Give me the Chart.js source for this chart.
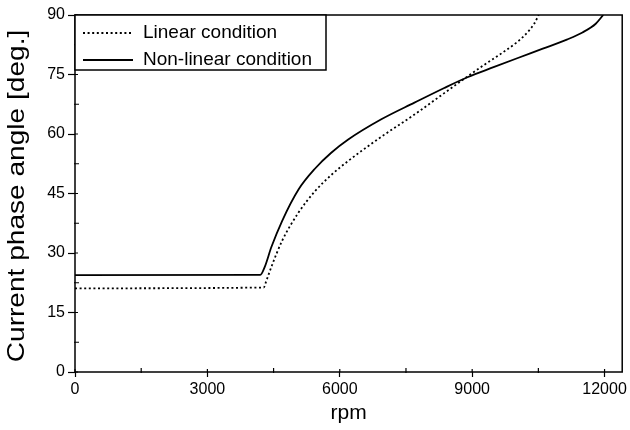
<!DOCTYPE html>
<html>
<head>
<meta charset="utf-8">
<script src="https://cdn.jsdelivr.net/npm/chart.js@4.4.1/dist/chart.umd.min.js"></script>
<style>
  html, body { margin: 0; padding: 0; background: #fff; }
  #wrap { width: 630px; height: 430px; }
</style>
</head>
<body>
<div id="wrap"><canvas id="c" width="630" height="430"></canvas></div>
<script>
// Current phase angle versus speed for the two motor model conditions
const linearRpm   = [0, 4277, 4330, 4450, 4690, 5065, 5441, 5800, 6191, 6941, 7692, 8367, 8893, 9268, 9700, 10020, 10250, 10400, 10508];
const linearAngle = [21.1, 21.3, 22.8, 26.5, 33.0, 40.2, 45.6, 49.6, 53.2, 59.3, 64.9, 70.3, 74.5, 77.4, 80.6, 83.2, 85.6, 87.7, 90.0];

const nonlinearRpm   = [0, 4200, 4300, 4450, 4690, 5065, 5441, 5800, 6191, 6941, 7692, 8367, 8893, 9500, 10020, 10600, 11145, 11500, 11800, 11970];
const nonlinearAngle = [24.4, 24.5, 26.5, 31.5, 38.0, 46.0, 51.3, 55.2, 58.6, 63.7, 67.9, 71.6, 74.3, 76.9, 79.1, 81.5, 83.8, 85.6, 87.8, 90.0];

const seriesLabels = ['Linear condition', 'Non-linear condition'];
const xTickValues = [0, 1500, 3000, 4500, 6000, 7500, 9000, 10500, 12000];
const xTickLabels = [0, 3000, 6000, 9000, 12000];
const yTickValues = [0, 7.5, 15, 22.5, 30, 37.5, 45, 52.5, 60, 67.5, 75, 82.5, 90];
const yTickLabels = [0, 15, 30, 45, 60, 75, 90];
const xTitle = 'rpm';
const yTitle = 'Current phase angle [deg.]';

const FONT = "'Liberation Sans', Arial, Helvetica, sans-serif";
const DOT_DASH = [2, 2.6];

function toPoints(xs, ys) { return xs.map((x, i) => ({ x: x, y: ys[i] })); }

// Frame, inner/minor tick marks, y title and the boxed legend in the upper-left corner
const framePlugin = {
  id: 'frame',
  afterDraw(chart) {
    const ctx = chart.ctx;
    const a = chart.chartArea;
    const xs = chart.scales.x, ys = chart.scales.y;
    ctx.save();
    ctx.strokeStyle = '#000';
    ctx.lineWidth = 1.5;
    ctx.strokeRect(a.left, a.top, a.right - a.left, a.bottom - a.top);

    ctx.lineWidth = 1.2;
    ctx.beginPath();
    xs.ticks.forEach(t => {
      const px = xs.getPixelForValue(t.value);
      const major = xTickLabels.includes(t.value);
      ctx.moveTo(px, a.bottom);
      ctx.lineTo(px, a.bottom - (major ? 3 : 4));
      if (!major) { ctx.moveTo(px, a.bottom); ctx.lineTo(px, a.bottom + 1); }
    });
    ys.ticks.forEach(t => {
      const py = ys.getPixelForValue(t.value);
      const major = yTickLabels.includes(t.value);
      ctx.moveTo(a.left, py);
      ctx.lineTo(a.left + (major ? 3 : 4), py);
      if (!major) { ctx.moveTo(a.left, py); ctx.lineTo(a.left - 1, py); }
    });
    ctx.stroke();

    // y axis title (wide face: stretched along the text direction)
    ctx.save();
    ctx.translate(17, 196);
    ctx.rotate(-Math.PI / 2);
    ctx.scale(1.17, 1);
    ctx.fillStyle = '#000';
    ctx.font = '24px ' + FONT;
    ctx.textAlign = 'center';
    ctx.textBaseline = 'middle';
    ctx.fillText(yTitle, 0, 0);
    ctx.restore();

    // legend
    const lx = a.left, ly = a.top, lw = 251, lh = 55;
    ctx.fillStyle = '#fff';
    ctx.fillRect(lx, ly, lw, lh);
    ctx.lineWidth = 1.5;
    ctx.strokeRect(lx, ly, lw, lh);
    const rows = [ly + 18, ly + 45];
    chart.data.datasets.forEach((ds, i) => {
      const y = rows[i];
      ctx.beginPath();
      ctx.lineWidth = ds.borderWidth;
      ctx.setLineDash(ds.borderDash || []);
      ctx.moveTo(lx + 8, y);
      ctx.lineTo(lx + 58, y);
      ctx.stroke();
      ctx.setLineDash([]);
      ctx.fillStyle = '#000';
      ctx.font = '19px ' + FONT;
      ctx.textBaseline = 'middle';
      ctx.textAlign = 'left';
      ctx.fillText(ds.label, lx + 68, y);
    });
    ctx.restore();
  }
};

new Chart(document.getElementById('c'), {
  type: 'scatter',
  data: {
    datasets: [
      {
        label: seriesLabels[0],
        data: toPoints(linearRpm, linearAngle),
        showLine: true,
        borderColor: '#000',
        borderWidth: 1.8,
        borderDash: DOT_DASH,
        pointRadius: 0,
        cubicInterpolationMode: 'monotone'
      },
      {
        label: seriesLabels[1],
        data: toPoints(nonlinearRpm, nonlinearAngle),
        showLine: true,
        borderColor: '#000',
        borderWidth: 1.8,
        pointRadius: 0,
        cubicInterpolationMode: 'monotone'
      }
    ]
  },
  options: {
    responsive: false,
    animation: false,
    layout: { padding: { top: 15, right: 6, left: 0, bottom: 0 } },
    plugins: { legend: { display: false }, tooltip: { enabled: false } },
    scales: {
      x: {
        type: 'linear',
        min: 0,
        max: 12400,
        border: { display: false },
        grid: {
          drawOnChartArea: false,
          tickLength: 5,
          tickWidth: 1.2,
          tickColor: ctx => (ctx.tick && xTickLabels.includes(ctx.tick.value)) ? '#000' : 'rgba(0,0,0,0)'
        },
        afterBuildTicks: s => { s.ticks = xTickValues.map(v => ({ value: v })); },
        ticks: {
          autoSkip: false,
          maxRotation: 0,
          color: '#000',
          padding: 3,
          font: { family: FONT, size: 16 },
          callback: v => xTickLabels.includes(v) ? String(v) : ''
        },
        title: {
          display: true,
          text: xTitle,
          color: '#000',
          font: { family: FONT, size: 21 },
          padding: { top: 0, bottom: 4 }
        },
        afterFit: s => { s.height = 58; }
      },
      y: {
        type: 'linear',
        min: 0,
        max: 90,
        border: { display: false },
        grid: {
          drawOnChartArea: false,
          tickLength: 7,
          tickWidth: 1.2,
          tickColor: ctx => (ctx.tick && yTickLabels.includes(ctx.tick.value)) ? '#000' : 'rgba(0,0,0,0)'
        },
        afterBuildTicks: s => { s.ticks = yTickValues.map(v => ({ value: v })); },
        ticks: {
          autoSkip: false,
          color: '#000',
          padding: 3,
          font: { family: FONT, size: 16 },
          callback: v => yTickLabels.includes(v) ? String(v) : ''
        },
        afterFit: s => { s.width = 75; }
      }
    }
  },
  plugins: [framePlugin]
});
</script>
</body>
</html>
